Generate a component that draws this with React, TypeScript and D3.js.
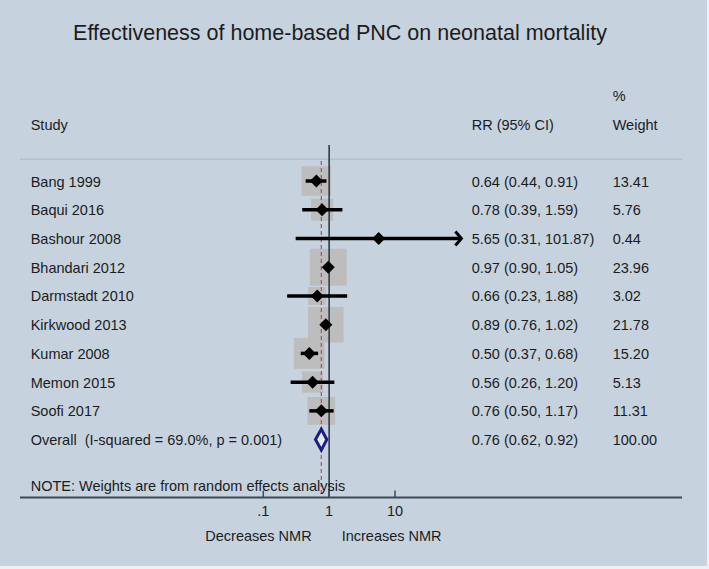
import React from "react";
import * as d3 from "d3";

const title = "Effectiveness of home-based PNC on neonatal mortality";
const studies = [
  "Bang 1999",
  "Baqui 2016",
  "Bashour 2008",
  "Bhandari 2012",
  "Darmstadt 2010",
  "Kirkwood 2013",
  "Kumar 2008",
  "Memon 2015",
  "Soofi 2017",
];
const rr = [0.64, 0.78, 5.65, 0.97, 0.66, 0.89, 0.5, 0.56, 0.76];
const lower = [0.44, 0.39, 0.31, 0.9, 0.23, 0.76, 0.37, 0.26, 0.5];
const upper = [0.91, 1.59, 101.87, 1.05, 1.88, 1.02, 0.68, 1.2, 1.17];
const weights = [13.41, 5.76, 0.44, 23.96, 3.02, 21.78, 15.2, 5.13, 11.31];
const overallLabel = "Overall  (I-squared = 69.0%, p = 0.001)";
const overall = { rr: 0.76, lower: 0.62, upper: 0.92, weight: 100.0 };
const tickValues = [0.1, 1, 10];
const tickLabels = [".1", "1", "10"];
const note = "NOTE: Weights are from random effects analysis";
const leftLabel = "Decreases NMR";
const rightLabel = "Increases NMR";

const W = 709;
const H = 569;
const BG = "#c6d3df";
const TXT = "#1c1c1c";
const FONT = "'Liberation Sans', Arial, Helvetica, sans-serif";
const FS = 14.5;

export default function App() {
  const x = d3.scaleLog().domain([0.1, 10]).range([263.3, 395]);
  const rows = [...studies, "Overall"];
  const y = d3.scalePoint<string>().domain(rows).range([181, 439.6]);
  const boxSide = d3
    .scaleLinear()
    .domain([0, 0.66, 1.74, 4.9])
    .range([0, 6, 18, 37]);
  const fmt = d3.format(".2f");
  const axisY = 497.5;
  const axisMax = d3.max(tickValues) as number;
  const dHalf = 6.5;
  const diamond = (cx: number, cy: number) =>
    `M${cx - dHalf},${cy}L${cx},${cy - dHalf}L${cx + dHalf},${cy}L${cx},${cy + dHalf}Z`;

  const oy = y("Overall") as number;
  const colRR = 471.7;
  const colW = 612.7;
  const colStudy = 30.7;

  return (
    <svg
      width={W}
      height={H}
      style={{ position: "absolute", left: 0, top: 0, display: "block" }}
      fontFamily={FONT}
    >
      <rect x={0} y={0} width={W} height={H} fill="#eef1f4" />
      <rect x={0} y={0} width={707} height={566} fill={BG} />

      <text x={340} y={40} textAnchor="middle" fontSize={21.5} fill={TXT}>
        {title}
      </text>

      {/* header */}
      <text x={colW} y={101} fontSize={FS} fill={TXT}>%</text>
      <text x={colStudy} y={130} fontSize={FS} fill={TXT}>Study</text>
      <text x={colRR} y={130} fontSize={FS} fill={TXT}>RR (95% CI)</text>
      <text x={colW} y={130} fontSize={FS} fill={TXT}>Weight</text>
      <line x1={20} x2={682} y1={159.3} y2={159.3} stroke="#b3c0cc" strokeWidth={1.5} />

      {/* boxes */}
      {studies.map((s, i) => {
        const side = boxSide(Math.sqrt(weights[i]));
        const cx = x(rr[i]);
        const cy = y(s) as number;
        return (
          <rect
            key={"b" + s}
            x={cx - side / 2}
            y={cy - side / 2}
            width={side}
            height={side}
            fill="#bdbdbd"
          />
        );
      })}

      {/* null line */}
      <line x1={x(1)} x2={x(1)} y1={145} y2={axisY} stroke="#2f3b47" strokeWidth={1.6} />
      {/* overall dashed line */}
      <line
        x1={x(overall.rr)}
        x2={x(overall.rr)}
        y1={161}
        y2={axisY}
        stroke="#a8506a"
        strokeWidth={1.2}
        strokeDasharray="4,3"
      />

      {/* CI lines and points */}
      {studies.map((s, i) => {
        const cy = y(s) as number;
        const x1 = x(lower[i]);
        const x2 = x(upper[i]);
        const arrow = upper[i] > axisMax;
        return (
          <g key={"c" + s}>
            <line x1={x1} x2={x2} y1={cy} y2={cy} stroke="#000" strokeWidth={3.5} />
            {arrow && (
              <polyline
                points={`${x2 - 6},${cy - 7} ${x2},${cy} ${x2 - 6},${cy + 7}`}
                fill="none"
                stroke="#000"
                strokeWidth={3}
              />
            )}
            <path d={diamond(x(rr[i]), cy)} fill="#000" />
          </g>
        );
      })}

      {/* overall diamond */}
      <path
        d={`M${x(overall.lower)},${oy}L${x(overall.rr)},${oy - 10.5}L${x(overall.upper)},${oy}L${x(overall.rr)},${oy + 10.5}Z`}
        fill="#e4eaf1"
        stroke="#1c1c86"
        strokeWidth={3}
        strokeLinejoin="miter"
      />

      {/* row texts */}
      {studies.map((s, i) => {
        const cy = (y(s) as number) + 5.5;
        return (
          <g key={"t" + s} fontSize={FS} fill={TXT}>
            <text x={colStudy} y={cy}>{s}</text>
            <text x={colRR} y={cy}>{`${fmt(rr[i])} (${fmt(lower[i])}, ${fmt(upper[i])})`}</text>
            <text x={colW} y={cy}>{fmt(weights[i])}</text>
          </g>
        );
      })}
      <g fontSize={FS} fill={TXT}>
        <text x={colStudy} y={oy + 5.5} style={{ whiteSpace: "pre" }}>{overallLabel}</text>
        <text x={colRR} y={oy + 5.5}>{`${fmt(overall.rr)} (${fmt(overall.lower)}, ${fmt(overall.upper)})`}</text>
        <text x={colW} y={oy + 5.5}>{fmt(overall.weight)}</text>
      </g>

      {/* note */}
      <text x={colStudy} y={491} fontSize={FS} fill={TXT}>{note}</text>

      {/* axis */}
      <line x1={20} x2={682} y1={axisY} y2={axisY} stroke="#3d4a57" strokeWidth={2} />
      {tickValues.map((t, i) => (
        <g key={"k" + t}>
          <line x1={x(t)} x2={x(t)} y1={axisY - 7} y2={axisY} stroke="#3d4a57" strokeWidth={1.5} />
          <text x={x(t)} y={515.7} textAnchor="middle" fontSize={FS} fill={TXT}>
            {tickLabels[i]}
          </text>
        </g>
      ))}
      <text x={x(1) - 17.5} y={540.7} textAnchor="end" fontSize={FS} fill={TXT}>{leftLabel}</text>
      <text x={x(1) + 12.5} y={540.7} textAnchor="start" fontSize={FS} fill={TXT}>{rightLabel}</text>
    </svg>
  );
}
